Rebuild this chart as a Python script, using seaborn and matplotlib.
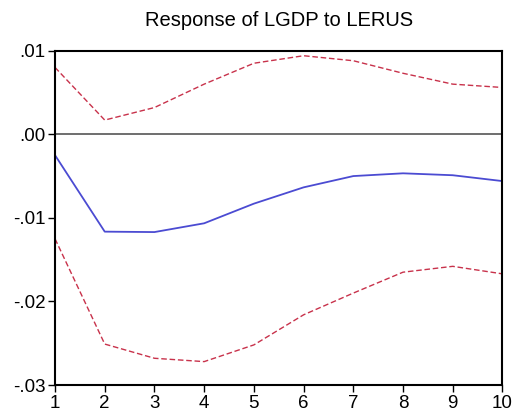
import matplotlib
matplotlib.use("Agg")
import matplotlib.pyplot as plt
import seaborn as sns
import pandas as pd
from matplotlib.ticker import FuncFormatter

# impulse response values
periods = [1, 2, 3, 4, 5, 6, 7, 8, 9, 10]
response = [-0.0025, -0.01165, -0.0117, -0.01065, -0.0083, -0.00635, -0.0050, -0.00467, -0.0049, -0.0056]
upper = [0.0080, 0.0017, 0.0032, 0.0060, 0.0085, 0.0094, 0.0088, 0.0073, 0.0060, 0.0056]
lower = [-0.0125, -0.0251, -0.0268, -0.0272, -0.0252, -0.0216, -0.0190, -0.0165, -0.0158, -0.0167]
yticks = [0.01, 0.0, -0.01, -0.02, -0.03]

df = pd.DataFrame({"period": periods, "response": response, "upper": upper, "lower": lower})

sns.set_style("white")
plt.rcParams["font.family"] = ["Liberation Sans", "DejaVu Sans"]

fig = plt.figure(figsize=(5.18, 4.17), dpi=100)
ax = fig.add_axes([0.1062, 0.0767, 0.8638, 0.8017])

ax.axhline(0, color="#555555", linewidth=1.2, zorder=1)
sns.lineplot(data=df, x="period", y="response", color="#4b4bd2", linewidth=1.3, ax=ax)
sns.lineplot(data=df, x="period", y="upper", color="#c8324b", linewidth=1.0, ax=ax)
sns.lineplot(data=df, x="period", y="lower", color="#c8324b", linewidth=1.0, ax=ax)
for ln in ax.lines[2:]:
    ln.set_dashes([4, 2])

ax.set_xlim(1, 10)
ax.set_ylim(-0.03, 0.01)
ax.set_xticks(periods)
ax.set_yticks(yticks)
ax.yaxis.set_major_formatter(FuncFormatter(lambda v, p: ("%.2f" % v).replace("0.", ".")))
ax.set_xlabel("")
ax.set_ylabel("")
ax.set_title("Response of LGDP to LERUS", fontsize=14.5, color="black", pad=18)

for s in ax.spines.values():
    s.set_color("black")
    s.set_linewidth(1.5)
ax.tick_params(axis="both", which="both", direction="out", length=5, width=1,
               color="black", labelcolor="black", labelsize=13.5, pad=2,
               bottom=True, left=True)

fig.savefig("out.png", dpi=100)
